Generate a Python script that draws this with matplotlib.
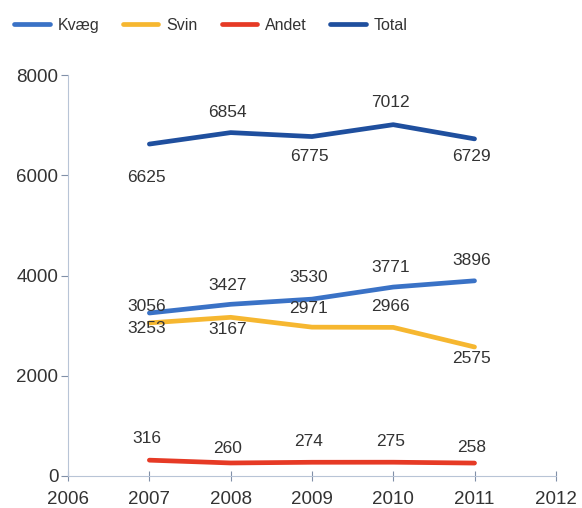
import matplotlib
matplotlib.use("Agg")
import matplotlib.pyplot as plt

plt.rcParams["font.family"] = ["Liberation Sans", "DejaVu Sans"]

years = [2007, 2008, 2009, 2010, 2011]
kvaeg = [3253, 3427, 3530, 3771, 3896]
svin = [3056, 3167, 2971, 2966, 2575]
andet = [316, 260, 274, 275, 258]
total = [6625, 6854, 6775, 7012, 6729]

# label offsets in pixels (positive = above the point)
kvaeg_off = [-15, 19, 22, 20, 20]
svin_off = [16, -12, 19, 21, -12]
andet_off = [22, 14, 21, 21, 16]
total_off = [-33, 20, -20, 22, -18]

series = [
    ("Kvæg", kvaeg, "#3a72c6", kvaeg_off),
    ("Svin", svin, "#f6b730", svin_off),
    ("Andet", andet, "#e63a25", andet_off),
    ("Total", total, "#1f4f9e", total_off),
]

fig = plt.figure(figsize=(5.82, 5.08), dpi=100)
ax = fig.add_axes([0.117, 0.063, 0.838, 0.789])

for name, vals, color, offs in series:
    ax.plot(years, vals, color=color, lw=3.4, label=name, solid_capstyle="round")
    for x, v, o in zip(years, vals, offs):
        ax.annotate(str(v), (x, v), xytext=(-3, o), textcoords="offset pixels",
                    ha="center", va="center", fontsize=12.5, color="#333333")

ax.set_xlim(2006, 2012)
ax.set_ylim(0, 8000)
ax.set_xticks(range(2006, 2013))
ax.set_yticks(range(0, 8001, 2000))
ax.tick_params(axis="both", labelsize=13.5, colors="#333333")
ax.tick_params(axis="x", direction="inout", length=7, color="#8090a8", pad=7)
ax.tick_params(axis="y", direction="out", length=5, color="#8090a8", pad=2)
for side in ("top", "right"):
    ax.spines[side].set_visible(False)
for side in ("left", "bottom"):
    ax.spines[side].set_color("#b8c4d6")

fig.legend(loc="upper left", bbox_to_anchor=(0.0, 0.993), ncol=4, frameon=False,
           fontsize=11.5, handlelength=2.2, columnspacing=1.5, handletextpad=0.5,
           labelcolor="#333333")

fig.savefig("out.png", dpi=100)
